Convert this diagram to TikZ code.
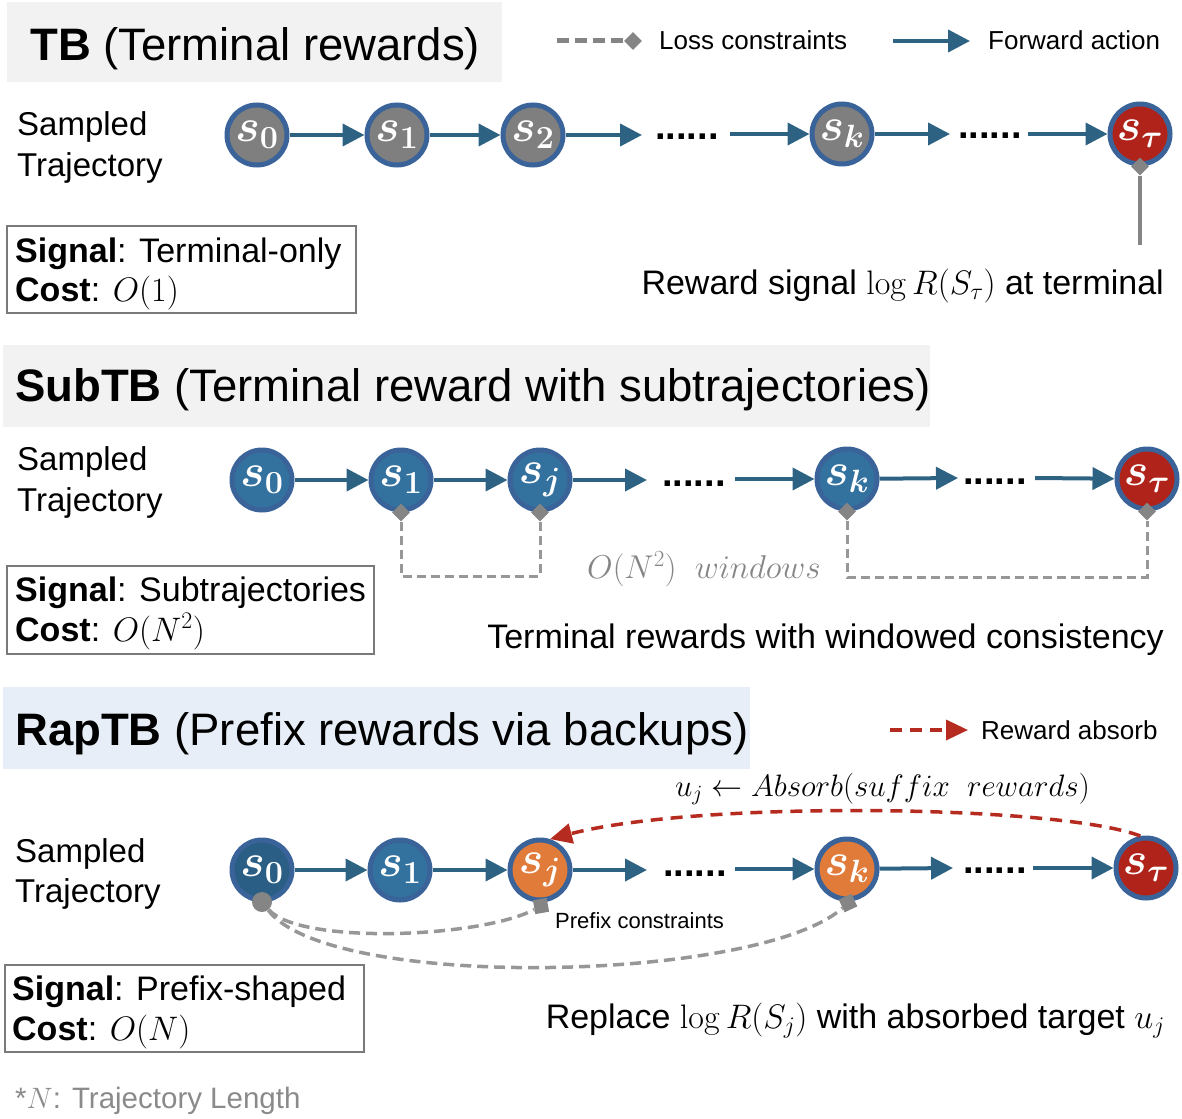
\RequirePackage{fix-cm}
\documentclass[tikz,border=0pt]{standalone}
\usepackage[no-math]{fontspec}
\setmainfont{Liberation Sans}
\usetikzlibrary{shapes.geometric,arrows.meta}

\definecolor{boxgrey}{HTML}{F2F2F2}
\definecolor{boxblue}{HTML}{E7EEF7}
\definecolor{ring}{HTML}{3A6399}
\definecolor{stgrey}{HTML}{7F7F7F}
\definecolor{stblue}{HTML}{33729F}
\definecolor{stdark}{HTML}{2A5E85}
\definecolor{storange}{HTML}{E07B3A}
\definecolor{stred}{HTML}{B0231A}
\definecolor{fwdcol}{HTML}{2E6282}
\definecolor{cgrey}{HTML}{858585}
\definecolor{absred}{HTML}{B52B1F}
\definecolor{framegrey}{HTML}{7A7A7A}
\definecolor{notegrey}{HTML}{8A8A8A}

\newcommand\setfs[1]{\fontsize{#1}{#1}\selectfont}

\tikzset{
  stnode/.style={circle, draw=ring, line width=5pt, minimum size=60pt,
    inner sep=0pt, text=white, font=\setfs{46}\boldmath},
  gst/.style={stnode, fill=stgrey},
  bst/.style={stnode, fill=stblue},
  dst/.style={stnode, fill=stdark},
  ost/.style={stnode, fill=storange},
  rst/.style={stnode, fill=stred},
  fwd/.style={draw=fwdcol, line width=4pt, -{Triangle[length=22pt,width=22pt]}},
  dotsn/.style={font=\setfs{38}\bfseries, anchor=base west, inner sep=0pt},
  lab/.style={font=\setfs{34}, anchor=base west, inner sep=0pt},
  samp/.style={font=\setfs{33}, anchor=base west, inner sep=0pt},
  titletext/.style={font=\setfs{45.5}, anchor=base west, inner sep=0pt},
  legtext/.style={font=\setfs{26}, anchor=base west, inner sep=0pt},
  tbox/.style={draw=none, inner sep=0pt},
  sigbox/.style={draw=framegrey, line width=2pt, inner sep=0pt},
  diam/.style={diamond, fill=cgrey, minimum width=18pt, minimum height=18pt, inner sep=0pt},
  sq/.style={rectangle, fill=cgrey, minimum size=14pt, inner sep=0pt},
  stem/.style={draw=cgrey, line width=4pt},
  window/.style={draw=cgrey!85, line width=3pt, dash pattern=on 9pt off 5pt},
  lossleg/.style={draw=cgrey, line width=5pt, dash pattern=on 12pt off 6pt},
  prefixc/.style={draw=cgrey!85, line width=3.5pt, dash pattern=on 11pt off 6pt},
  absorb/.style={draw=absred, line width=3.5pt, dash pattern=on 12pt off 8pt,
    -{Triangle[length=22pt,width=20pt]}},
}

\begin{document}
\begin{tikzpicture}[x=1pt,y=-1pt]
\useasboundingbox (0,0) rectangle (1182,1118);

% ---------- legend ----------
\coordinate (lga) at (557,41);
\node[diam] (lgb) at (633,41) {};
\draw[lossleg] (lga) -- (lgb.west);
\node[legtext] (lgt1) at (659,50) {Loss constraints};
\coordinate (lfa) at (893,41);
\coordinate (lfb) at (970,41);
\draw[fwd] (lfa) -- (lfb);
\node[legtext] (lgt2) at (988,50) {Forward action};

% ---------- TB ----------
\node[tbox, fill=boxgrey, minimum width=495pt, minimum height=80pt] (tbbox) at (254.5,42) {};
\node[titletext] (tbtitle) at (30,61) {\textbf{TB} (Terminal rewards)};
\node[samp] (tbsamp) at (17,136) {Sampled};
\node[samp] (tbtraj) at (17,176) {Trajectory};

\node[gst] (a0) at (257,135) {$s_0$};
\node[gst] (a1) at (397,135) {$s_1$};
\node[gst] (a2) at (533,135) {$s_2$};
\node[gst] (ak) at (842,134) {$s_k$};
\node[rst] (at) at (1140,134) {$s_\tau$};
\coordinate (a2e) at (642,135);
\node[dotsn] (adots1) at (655,140) {......};
\coordinate (aks) at (730,134);
\coordinate (ake) at (950,134);
\node[dotsn] (adots2) at (958,139) {......};
\coordinate (ats) at (1028,134);
\draw[fwd] (a0) -- (a1);
\draw[fwd] (a1) -- (a2);
\draw[fwd] (a2) -- (a2e);
\draw[fwd] (aks) -- (ak);
\draw[fwd] (ak) -- (ake);
\draw[fwd] (ats) -- (at);
\node[diam] (atd) at (at.south) {};
\coordinate (atl) at (1140,245);
\draw[stem] (atd.south) -- (atl);
\node[lab, anchor=base east] (tbrew) at (1164,294) {Reward signal $\log R(S_\tau)$ at terminal};

\node[sigbox, minimum width=349pt, minimum height=87pt] (tbsig) at (181.5,269.5) {};
\node[lab] (tbsig1) at (15,262) {\textbf{Signal}: Terminal-only};
\node[lab] (tbsig2) at (15,301) {\textbf{Cost}: $O(1)$};

% ---------- SubTB ----------
\node[tbox, fill=boxgrey, minimum width=927pt, minimum height=82pt] (sbbox) at (466.5,386) {};
\node[titletext] (sbtitle) at (15,401) {\textbf{SubTB} (Terminal reward with subtrajectories)};
\node[samp] (sbsamp) at (17,470) {Sampled};
\node[samp] (sbtraj) at (17,511) {Trajectory};

\node[bst] (b0) at (262,480) {$s_0$};
\node[bst] (b1) at (401,480) {$s_1$};
\node[bst] (bj) at (540,480) {$s_j$};
\node[bst] (bk) at (847,479) {$s_k$};
\node[rst] (bt) at (1147,479) {$s_\tau$};
\coordinate (bje) at (647,480);
\node[dotsn] (bdots1) at (662,486) {......};
\coordinate (bks) at (735,479);
\coordinate (bke) at (958,478);
\node[dotsn] (bdots2) at (963,484) {......};
\coordinate (bts) at (1035,478);
\draw[fwd] (b0) -- (b1);
\draw[fwd] (b1) -- (bj);
\draw[fwd] (bj) -- (bje);
\draw[fwd] (bks) -- (bk);
\draw[fwd] (bk) -- (bke);
\draw[fwd] (bts) -- (bt);

\node[diam] (bd1) at (b1.south) {};
\node[diam] (bdj) at (bj.south) {};
\node[diam] (bdk) at (bk.south) {};
\node[diam] (bdt) at (bt.south) {};
\coordinate (bw1) at (470,576);
\coordinate (bw2) at (1000,577);
\draw[window] (bd1.south) |- (bw1) -| (bdj.south);
\draw[window] (bdk.south) |- (bw2) -| (bdt.south);
\node[font=\setfs{33}, text=cgrey, anchor=base west, inner sep=0pt] (bwin) at (587,578) {$O(N^2)\;\; windows$};

\node[sigbox, minimum width=367pt, minimum height=88pt] (sbsig) at (190.5,610) {};
\node[lab] (sbsig1) at (15,601) {\textbf{Signal}: Subtrajectories};
\node[lab] (sbsig2) at (15,641) {\textbf{Cost}: $O(N^2)$};
\node[lab, anchor=base east] (sbrew) at (1164,648) {Terminal rewards with windowed consistency};

% ---------- RapTB ----------
\node[tbox, fill=boxblue, minimum width=747pt, minimum height=82pt] (rpbox) at (376.5,728) {};
\node[titletext] (rptitle) at (15,745) {\textbf{RapTB} (Prefix rewards via backups)};
\coordinate (rla) at (890,730);
\coordinate (rlb) at (968,730);
\draw[absorb] (rla) -- (rlb);
\node[legtext] (rlt) at (981,739) {Reward absorb};
\node[font=\setfs{31}, anchor=base west, inner sep=0pt] (rabs) at (675,796) {$u_j \leftarrow Absorb(suffix\;\; rewards)$};

\node[samp] (rpsamp) at (15,862) {Sampled};
\node[samp] (rptraj) at (15,902) {Trajectory};

\node[dst] (c0) at (262,870) {$s_0$};
\node[bst] (c1) at (400,870) {$s_1$};
\node[ost] (cj) at (540,870) {$s_j$};
\node[ost] (ck) at (847,869) {$s_k$};
\node[rst] (ct) at (1146,868) {$s_\tau$};
\coordinate (cje) at (647,870);
\node[dotsn] (cdots1) at (663,876) {......};
\coordinate (cks) at (735,869);
\coordinate (cke) at (953,868);
\node[dotsn] (cdots2) at (963,873) {......};
\coordinate (cts) at (1033,868);
\draw[fwd] (c0) -- (c1);
\draw[fwd] (c1) -- (cj);
\draw[fwd] (cj) -- (cje);
\draw[fwd] (cks) -- (ck);
\draw[fwd] (ck) -- (cke);
\draw[fwd] (cts) -- (ct);

\draw[absorb] (ct.100) .. controls (1060,805) and (700,800) .. (cj.72);

\node[circle, fill=cgrey, minimum size=20pt, inner sep=0pt] (cp0) at (262,902) {};
\node[sq, rotate=10] (cpj) at (541,906) {};
\node[sq, rotate=25] (cpk) at (848,903) {};
\draw[prefixc] (cp0) .. controls (300,945) and (480,938) .. (cpj);
\draw[prefixc] (cp0) .. controls (330,992) and (760,982) .. (cpk);
\node[font=\setfs{22}, anchor=base west, inner sep=0pt] (cpl) at (555,928) {Prefix constraints};

\node[sigbox, minimum width=359pt, minimum height=87pt] (rpsig) at (184.5,1008.5) {};
\node[lab] (rpsig1) at (12,1000) {\textbf{Signal}: Prefix-shaped};
\node[lab] (rpsig2) at (12,1040) {\textbf{Cost}: $O(N)$};
\node[lab, anchor=base east] (rprew) at (1165,1028) {Replace $\log R(S_j)$ with absorbed target $u_j$};

\node[font=\setfs{29.5}, text=notegrey, anchor=base west, inner sep=0pt] (note) at (15,1108) {*$N$: Trajectory Length};
\end{tikzpicture}
\end{document}
